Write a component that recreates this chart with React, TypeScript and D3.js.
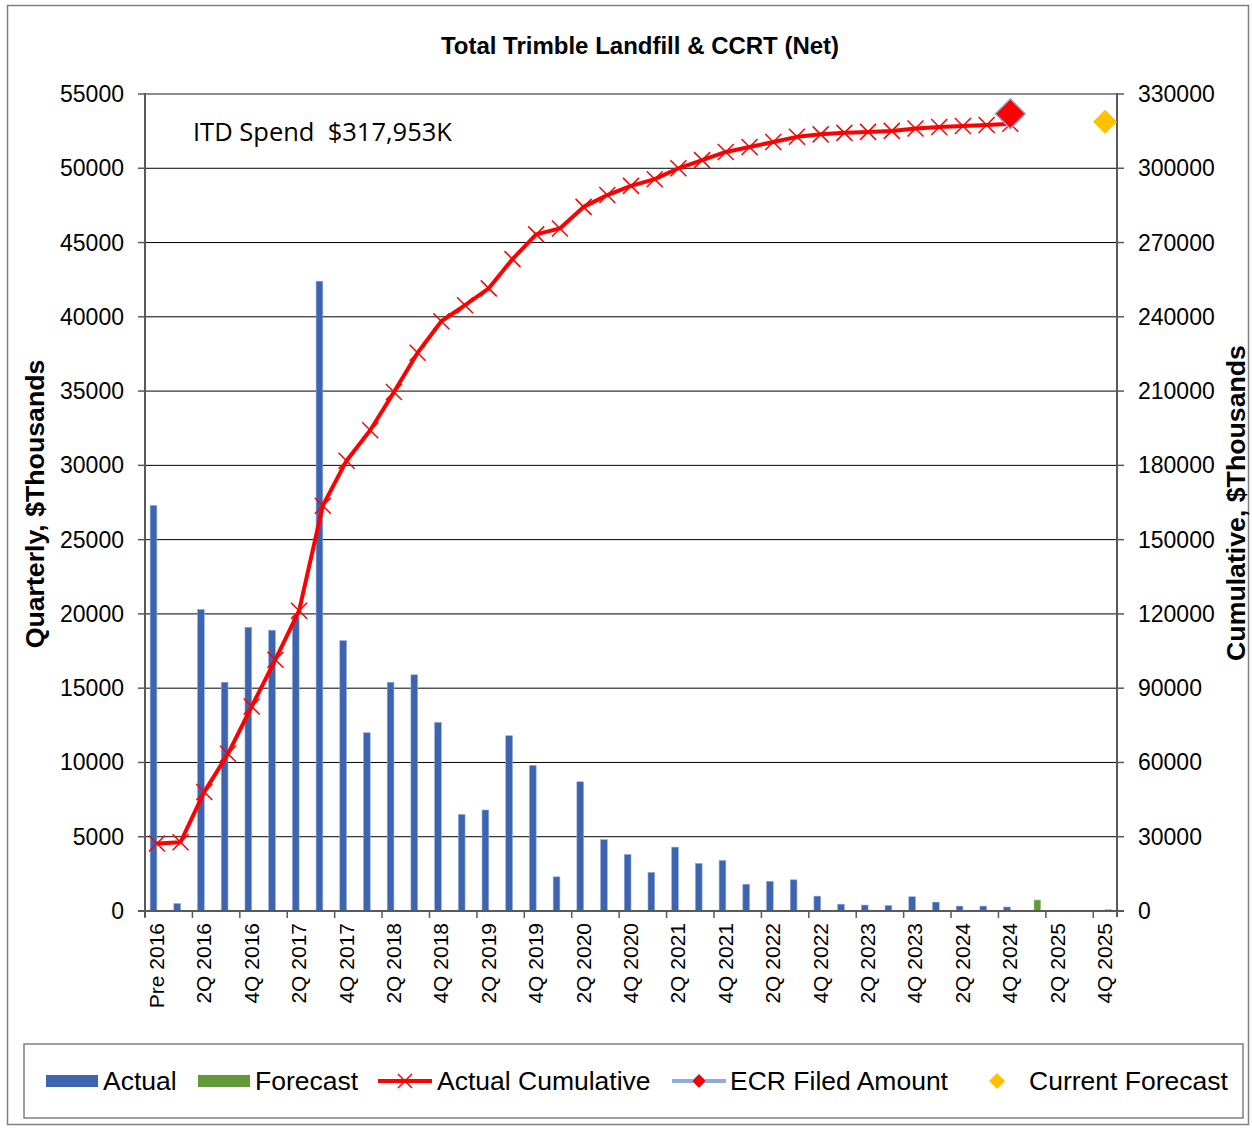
import React from "react";
import * as d3 from "d3";

// quarters on the x axis
const categories = [
  "Pre 2016",
  "1Q 2016", "2Q 2016", "3Q 2016", "4Q 2016",
  "1Q 2017", "2Q 2017", "3Q 2017", "4Q 2017",
  "1Q 2018", "2Q 2018", "3Q 2018", "4Q 2018",
  "1Q 2019", "2Q 2019", "3Q 2019", "4Q 2019",
  "1Q 2020", "2Q 2020", "3Q 2020", "4Q 2020",
  "1Q 2021", "2Q 2021", "3Q 2021", "4Q 2021",
  "1Q 2022", "2Q 2022", "3Q 2022", "4Q 2022",
  "1Q 2023", "2Q 2023", "3Q 2023", "4Q 2023",
  "1Q 2024", "2Q 2024", "3Q 2024", "4Q 2024",
  "1Q 2025", "2Q 2025", "3Q 2025", "4Q 2025",
];

// quarterly actual spend, $K (Pre 2016 .. 4Q 2024)
const actual = [
  27300, 500, 20300, 15400, 19100, 18900, 19800, 42400, 18200, 12000, 15400,
  15900, 12700, 6500, 6800, 11800, 9800, 2300, 8700, 4800, 3800, 2600, 4300,
  3200, 3400, 1800, 2000, 2100, 1000, 460, 400, 370, 960, 600, 330, 330, 270,
];

// forecast quarters
const forecastQuarters = ["1Q 2025", "2Q 2025", "3Q 2025", "4Q 2025"];
const forecast = [740, 0, 0, 100];

// cumulative actual, $K
const cumulative = [
  27300, 27800, 48100, 63500, 82600, 101500, 121300, 163700, 181900, 194200,
  209600, 225500, 238200, 244700, 251500, 263300, 273300, 275700, 284400,
  289200, 292900, 295600, 300000, 303300, 306600, 308600, 310600, 312700,
  313700, 314300, 314700, 315100, 316100, 316700, 317100, 317500, 317953,
];

const ecrQuarter = "4Q 2024";
const ecrFiled = 322000;
const currentForecastQuarter = "4Q 2025";
const currentForecast = 318800;

const leftTicks = d3.range(0, 55001, 5000);
const rightTicks = d3.range(0, 330001, 30000);

const ARIAL = "'Liberation Sans', Arial, sans-serif";

const App = () => {
  const W = 1252;
  const H = 1128;
  const left = 145;
  const right = 1117;
  const top = 94;
  const bottom = 911;

  const x = d3.scaleBand().domain(categories).range([left, right]).padding(0);
  const yL = d3.scaleLinear().domain([0, 55000]).range([bottom, top]);
  const yR = d3.scaleLinear().domain([0, 330000]).range([bottom, top]);
  const bw = x.bandwidth() * 0.283;
  const cx = (c: string) => (x(c) as number) + x.bandwidth() / 2;

  const line = d3
    .line<number>()
    .x((_, i) => cx(categories[i]))
    .y((d) => yR(d));

  const cross = (px: number, py: number, s: number, key: string) => (
    <path
      key={key}
      d={`M${px - s},${py - s}L${px + s},${py + s}M${px - s},${py + s}L${px + s},${py - s}`}
      stroke="#FF0000"
      strokeWidth={1.5}
      fill="none"
    />
  );
  const diamond = (px: number, py: number, r: number) =>
    `M${px},${py - r}L${px + r},${py}L${px},${py + r}L${px - r},${py}Z`;

  // every other category boundary gets a tick
  const xTickIdx = d3.range(0, categories.length + 1, 2);

  return (
    <svg
      width={W}
      height={H}
      style={{ position: "absolute", left: 0, top: 0, background: "#fff" }}
      fontFamily={ARIAL}
    >
      <rect x={7.5} y={5.5} width={1241} height={1119} fill="#fff" stroke="#7f7f7f" strokeWidth={1.5} />

      <text x={640} y={54} textAnchor="middle" fontSize={24} fontWeight="bold">
        Total Trimble Landfill &amp; CCRT (Net)
      </text>

      {/* grid */}
      {leftTicks.map((t) => (
        <line
          key={"g" + t}
          x1={left}
          x2={right}
          y1={yL(t)}
          y2={yL(t)}
          stroke={t === 55000 ? "#8c8c8c" : "#000"}
          strokeWidth={t === 55000 ? 2 : 1}
        />
      ))}

      {/* bars */}
      {actual.map((v, i) => (
        <rect
          key={"a" + i}
          x={cx(categories[i]) - bw}
          y={yL(v)}
          width={bw}
          height={bottom - yL(v)}
          fill="#3D64AE"
          stroke="#8FAADC"
          strokeWidth={0.6}
        />
      ))}
      {forecast.map((v, i) => (
        <rect
          key={"f" + i}
          x={cx(forecastQuarters[i])}
          y={yL(v)}
          width={bw}
          height={bottom - yL(v)}
          fill="#64993A"
          stroke="#A9D18E"
          strokeWidth={v > 0 ? 0.6 : 0}
        />
      ))}

      {/* axes */}
      <line x1={left} x2={left} y1={top - 1} y2={bottom + 6} stroke="#595959" strokeWidth={2} />
      <line x1={right} x2={right} y1={top - 1} y2={bottom + 6} stroke="#595959" strokeWidth={2} />
      <line x1={left - 7} x2={right + 7} y1={bottom} y2={bottom} stroke="#595959" strokeWidth={2} />
      {leftTicks.map((t) => (
        <g key={"lt" + t}>
          <line x1={left - 7} x2={left} y1={yL(t)} y2={yL(t)} stroke="#595959" strokeWidth={1.5} />
          <text x={124} y={yL(t) + 8} textAnchor="end" fontSize={23}>
            {t}
          </text>
        </g>
      ))}
      {rightTicks.map((t) => (
        <g key={"rt" + t}>
          <line x1={right} x2={right + 7} y1={yR(t)} y2={yR(t)} stroke="#595959" strokeWidth={1.5} />
          <text x={1138} y={yR(t) + 8} fontSize={23}>
            {t}
          </text>
        </g>
      ))}
      {xTickIdx.map((i) => {
        const px = left + i * x.step();
        return <line key={"xt" + i} x1={px} x2={px} y1={bottom} y2={bottom + 7} stroke="#595959" strokeWidth={1.5} />;
      })}
      {categories.map((c, i) =>
        i % 2 === 0 ? (
          <text
            key={"xl" + c}
            transform={`translate(${cx(c) + 7},${923}) rotate(-90)`}
            textAnchor="end"
            fontSize={21}
          >
            {c}
          </text>
        ) : null
      )}

      <text transform="translate(44,504) rotate(-90)" textAnchor="middle" fontSize={26.7} fontWeight="bold">
        Quarterly, $Thousands
      </text>
      <text transform="translate(1245,503) rotate(-90)" textAnchor="middle" fontSize={26.7} fontWeight="bold">
        Cumulative, $Thousands
      </text>

      <text x={193} y={141} fontSize={25.5} fontFamily="'Open Sans', sans-serif" xmlSpace="preserve">
        ITD Spend  $317,953K
      </text>

      {/* cumulative line */}
      <path d={line(cumulative) || ""} fill="none" stroke="#FF0000" strokeWidth={4} strokeLinejoin="round" />
      {cumulative.map((v, i) => cross(cx(categories[i]), yR(v), 8, "c" + i))}

      <path d={diamond(cx(ecrQuarter), yR(ecrFiled), 15)} fill="#FF0000" stroke="#8FAADC" strokeWidth={1.5} />
      <path d={diamond(cx(currentForecastQuarter), yR(currentForecast), 12)} fill="#FFC000" />

      {/* legend */}
      <rect x={24} y={1044} width={1219} height={74} fill="#fff" stroke="#808080" strokeWidth={1.5} />
      <g fontSize={26.5}>
        <rect x={46} y={1075} width={52} height={12} fill="#3D64AE" />
        <text x={103} y={1090}>Actual</text>
        <rect x={198} y={1075} width={52} height={12} fill="#64993A" />
        <text x={255} y={1090}>Forecast</text>
        <line x1={378} x2={432} y1={1081} y2={1081} stroke="#FF0000" strokeWidth={4} />
        {cross(405, 1081, 7, "lc")}
        <text x={437} y={1090}>Actual Cumulative</text>
        <line x1={672} x2={726} y1={1081} y2={1081} stroke="#8FAADC" strokeWidth={4} />
        <path d={diamond(699, 1081, 7)} fill="#FF0000" stroke="#8FAADC" strokeWidth={1} />
        <text x={730} y={1090}>ECR Filed Amount</text>
        <path d={diamond(997, 1081, 8)} fill="#FFC000" />
        <text x={1029} y={1090}>Current Forecast</text>
      </g>
    </svg>
  );
};

export default App;
